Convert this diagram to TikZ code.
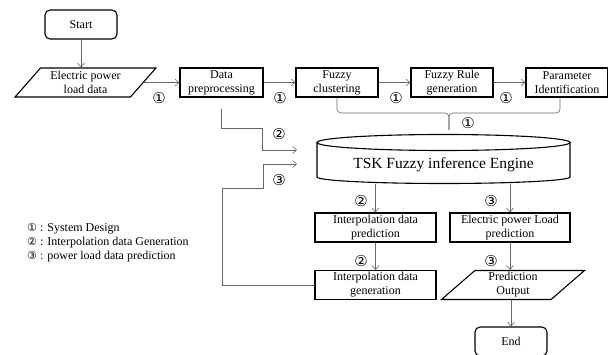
\documentclass[tikz,border=0pt]{standalone}
\usepackage{fontspec}
\setmainfont{Liberation Serif}
\newfontfamily\circfont{DejaVu Sans}
\usetikzlibrary{shapes.geometric,arrows.meta,calc}

\begin{document}
\begin{tikzpicture}[x=1pt,y=-1pt,
    box/.style={draw,line width=1.1pt,align=center,font=\fontsize{12}{14}\selectfont,inner sep=1pt,minimum height=29},
    term/.style={box,rounded corners=5pt,minimum width=72},
    io/.style={box,trapezium,trapezium left angle=50,trapezium right angle=130,trapezium stretches=true},
    line/.style={draw=black!60,line width=0.6pt},
    arr/.style={line,-{Straight Barb[length=4pt,width=7pt]}},
    num/.style={font=\circfont\fontsize{15}{15}\selectfont,inner sep=0pt}]
    \useasboundingbox (0,0) rectangle (608,355);

    \node[term] (start) at (81,24.5) {Start};
    \node[io,minimum width=141] (load) at (85.5,82.5) {Electric power\\load data};
    \node[box,minimum width=83] (prep) at (221.5,82.5) {Data\\preprocessing};
    \node[box,minimum width=82] (clus) at (337,82.5) {Fuzzy\\clustering};
    \node[box,minimum width=82] (rule) at (452,82.5) {Fuzzy Rule\\generation};
    \node[box,minimum width=82] (param) at (567,82.5) {Parameter\\Identification};

    % engine drum
    \draw[line width=1.1pt] (443.5,142.5) ellipse[x radius=126.5,y radius=8];
    \draw[line width=1.1pt] (317,142.5) -- (317,177) arc[start angle=180,end angle=0,x radius=126.5,y radius=6.5] -- (570,142.5);
    \node[minimum width=253,minimum height=37,inner sep=0pt,font=\fontsize{15.5}{15.5}\selectfont] (tsk) at (443.5,165) {TSK Fuzzy inference Engine};

    \node[box,minimum width=121] (ipred) at (375.5,227.5) {Interpolation data\\prediction};
    \node[box,minimum width=120] (lpred) at (510,227.5) {Electric power Load\\prediction};
    \node[box,minimum width=121] (igen) at (375.5,285) {Interpolation data\\generation};
    \node[io,minimum width=144] (out) at (513,285) {Prediction\\Output};
    \node[term] (end) at (511,341.5) {End};

    \draw[arr] (start.south) -- (start.south |- load.north);
    \draw[arr] (load.east) -- (prep.west);
    \draw[arr] (prep.east) -- (clus.west);
    \draw[arr] (clus.east) -- (rule.west);
    \draw[arr] (rule.east) -- (param.west);

    % brace joining the design steps
    \coordinate (bmid) at (449,113);
    \coordinate (btip) at (449,130);
    \coordinate (pr) at ($(param.south)+(-7,0)$);
    \draw[line,rounded corners=4pt] (clus.south) |- (bmid) -- (btip);
    \draw[line,rounded corners=4pt] (pr) |- (bmid) -- (btip);

    \coordinate (p2) at ($(prep.south)+(0,11)$);
    \coordinate (in2) at (297,150);
    \coordinate (in3) at (297,164);
    \draw[arr] (p2) |- (262,128) |- (in2);
    \draw[arr] (igen.west) -| (222,188) -| (263,164) -- (in3);

    \draw[arr] (ipred.north |- tsk.south) -- (ipred.north);
    \draw[arr] (lpred.north |- tsk.south) -- (lpred.north);
    \draw[arr] (ipred.south) -- (igen.north);
    \draw[arr] (lpred.south) -- (lpred.south |- out.north);
    \draw[arr] (out.south -| end.north) -- (end.north);

    \node[num] (a1) at (159,98.5) {①};
    \node[num] (a2) at (280,98.5) {①};
    \node[num] (a3) at (396,98.5) {①};
    \node[num] (a4) at (506,98.5) {①};
    \node[num] (a5) at (468,123) {①};
    \node[num] (b1) at (279,134) {②};
    \node[num] (c1) at (279,180) {③};
    \node[num] (b2) at (361,201) {②};
    \node[num] (c2) at (491,201) {③};
    \node[num] (b3) at (361,261) {②};
    \node[num] (c3) at (491,261) {③};

    \node[align=left,anchor=west,inner sep=0pt,font=\fontsize{12}{14}\selectfont] (legend) at (27,243)
        {{\circfont\fontsize{11}{11}\selectfont ①} : System Design\\
         {\circfont\fontsize{11}{11}\selectfont ②} : Interpolation data Generation\\
         {\circfont\fontsize{11}{11}\selectfont ③} : power load data prediction};
\end{tikzpicture}
\end{document}
